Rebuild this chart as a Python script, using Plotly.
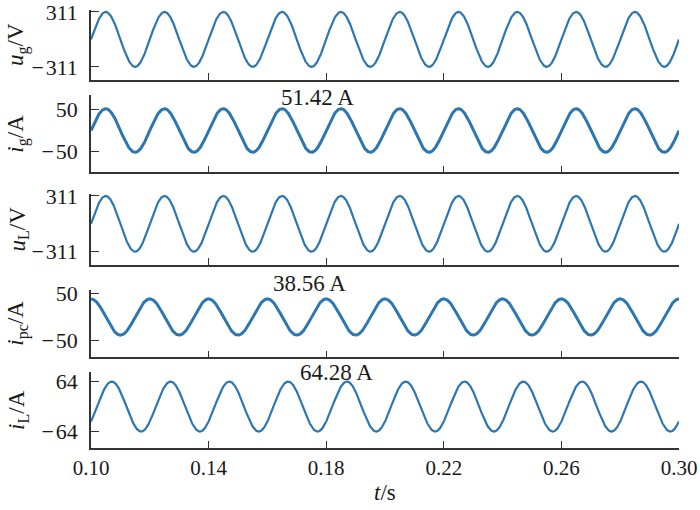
import numpy as np
import plotly.graph_objects as go

# ---- data ----
t_start, t_end = 0.10, 0.30
freq_hz = 50.0
series_names = ["u_g", "i_g", "u_L", "i_pc", "i_L"]
amplitudes = [311.0, 51.42, 311.0, 38.56, 64.28]
phases_deg = [0.0, 0.0, 0.0, 90.0, -36.87]
y_titles = ["<i>u</i><sub>g</sub>/V", "<i>i</i><sub>g</sub>/A", "<i>u</i><sub>L</sub>/V",
            "<i>i</i><sub>pc</sub>/A", "<i>i</i><sub>L</sub>/A"]
y_tick_vals = [[311, -311], [50, -50], [311, -311], [50, -50], [64, -64]]
y_tick_text = [["311", "−\u200a311"], ["50", "−\u200a50"], ["311", "−\u200a311"],
               ["50", "−\u200a50"], ["64", "−\u200a64"]]
y_ranges = [[-460, 333], [-98.6, 83.8], [-460, 333], [-85.7, 57.4], [-106.5, 89.6]]
x_ticks = [0.10, 0.14, 0.18, 0.22, 0.26, 0.30]
amp_labels = ["51.42 A", "38.56 A", "64.28 A"]

# ---- layout / style ----
W, H = 700, 510
PL, PR, PT, PB = 91, 679.3, 10, 448      # plot area in page pixels
ML, MR, MT, MB = PL, W - PR, PT, H - PB
PW, PH = PR - PL, PB - PT
domains = [[0.8402, 1.0], [0.6295, 0.8059], [0.4178, 0.5799], [0.2071, 0.3607], [0.0, 0.1742]]
widths = [2.2, 3.0, 2.2, 3.0, 2.2]
color = "#2C76B2"
axis_col = "#333333"
txt_col = "#1a1a1a"
font_fam = "Liberation Serif, Times New Roman, serif"


def px(xp):
    return (xp - PL) / PW


def py(yp):
    return (PB - yp) / PH


t = np.linspace(t_start, t_end, 3001)
fig = go.Figure()
for k in range(5):
    y = amplitudes[k] * np.sin(2 * np.pi * freq_hz * t + np.deg2rad(phases_deg[k]))
    sfx = "" if k == 0 else str(k + 1)
    fig.add_trace(go.Scatter(x=t, y=y, mode="lines", line=dict(color=color, width=widths[k]),
                             xaxis="x" + sfx, yaxis="y" + sfx, showlegend=False, hoverinfo="skip"))
    top = y_ranges[k][1]
    xa = dict(domain=[0, 1], range=[t_start, t_end], tickvals=x_ticks, tickformat=".2f",
              showticklabels=(k == 4), ticks="inside", ticklen=7, tickwidth=1.3, tickcolor=axis_col,
              showline=True, linecolor=axis_col, linewidth=1.5, showgrid=False, zeroline=False,
              anchor="y" + sfx, ticklabeloverflow="allow",
              tickfont=dict(family=font_fam, size=21, color=txt_col))
    if k != 0:
        xa["matches"] = "x"
    ya = dict(domain=domains[k], range=y_ranges[k],
              tickvals=[top] + y_tick_vals[k], ticktext=[""] + y_tick_text[k],
              ticks="inside", ticklen=8, tickwidth=1.3, tickcolor=axis_col,
              showline=True, linecolor=axis_col, linewidth=1.5, showgrid=False, zeroline=False,
              anchor="x" + sfx, ticklabelstandoff=7, ticklabeloverflow="allow",
              tickfont=dict(family=font_fam, size=22, color=txt_col))
    fig.layout["xaxis" + sfx] = xa
    fig.layout["yaxis" + sfx] = ya
    fig.add_annotation(text=y_titles[k], xref="paper", yref="paper", x=px(18),
                       y=sum(domains[k]) / 2, textangle=-90, showarrow=False,
                       font=dict(family=font_fam, size=23, color=txt_col),
                       xanchor="center", yanchor="middle")

for txt, (ax_, ay_) in zip(amp_labels, [(318, 97), (310, 283), (337, 372)]):
    fig.add_annotation(text=txt, xref="paper", yref="paper", x=px(ax_), y=py(ay_), showarrow=False,
                       font=dict(family=font_fam, size=23, color=txt_col),
                       xanchor="center", yanchor="middle")

fig.add_annotation(text="<i>t</i>/s", xref="paper", yref="paper", x=px(385), y=py(492),
                   showarrow=False, font=dict(family=font_fam, size=23, color=txt_col),
                   xanchor="center", yanchor="middle")

fig.update_layout(width=W, height=H, margin=dict(l=ML, r=MR, t=MT, b=MB, autoexpand=False),
                  paper_bgcolor="white", plot_bgcolor="white")
fig.write_html("out.html", config={"displayModeBar": False},
               post_script="document.body.style.margin='0';document.body.style.overflow='hidden';")
